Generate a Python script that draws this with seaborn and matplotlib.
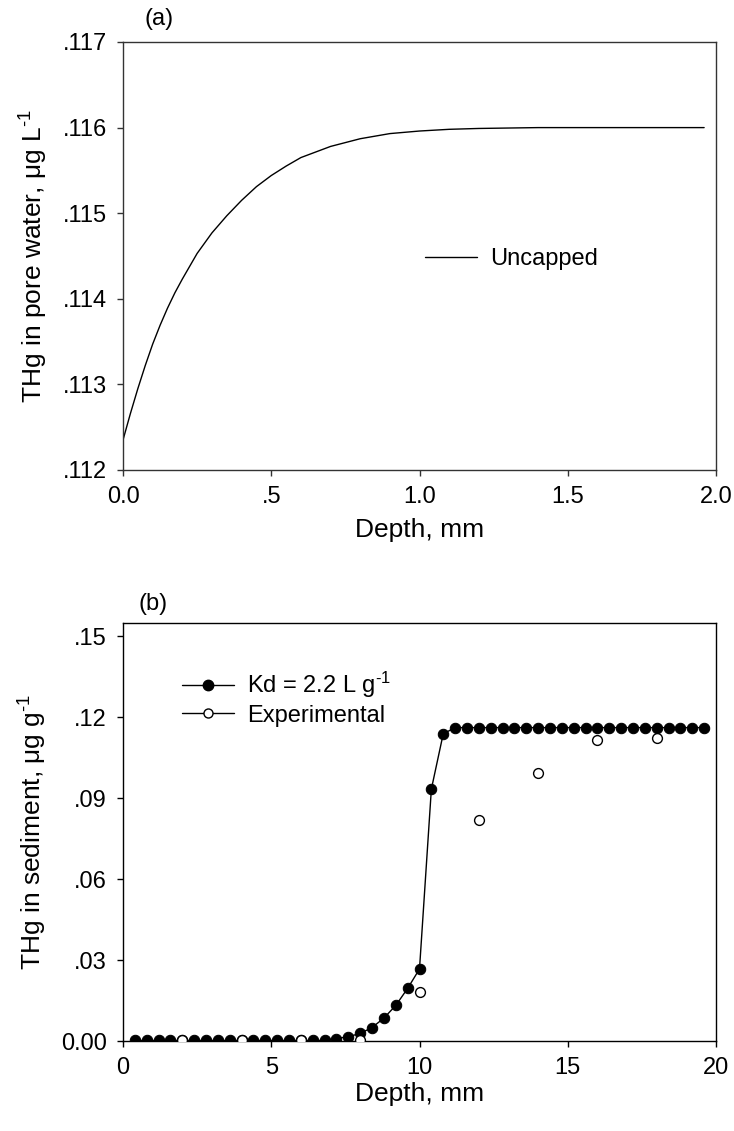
import matplotlib
matplotlib.use("Agg")
import matplotlib.pyplot as plt
from matplotlib.lines import Line2D
from matplotlib.ticker import FixedLocator, FixedFormatter
import seaborn as sns
import pandas as pd

# ---- data: panel (a) ----
depth_a = [0.0, 0.025, 0.05, 0.075, 0.1, 0.125, 0.15, 0.175, 0.2, 0.25, 0.3, 0.35,
           0.4, 0.45, 0.5, 0.55, 0.6, 0.7, 0.8, 0.9, 1.0, 1.1, 1.2, 1.4, 1.6, 1.8, 1.96]
thg_pore = [0.11235, 0.11266, 0.11295, 0.11322, 0.11347, 0.11369, 0.11389, 0.11407,
            0.11423, 0.11453, 0.11477, 0.11497, 0.11515, 0.11531, 0.11544, 0.11555,
            0.11565, 0.11578, 0.11587, 0.11593, 0.11596, 0.11598, 0.11599, 0.11600,
            0.11600, 0.11600, 0.11600]

# ---- data: panel (b) ----
depth_model = [0.4, 0.8, 1.2, 1.6, 2.0, 2.4, 2.8, 3.2, 3.6, 4.0, 4.4, 4.8, 5.2, 5.6,
               6.0, 6.4, 6.8, 7.2, 7.6, 8.0, 8.4, 8.8, 9.2, 9.6, 10.0, 10.4, 10.8,
               11.2, 11.6, 12.0, 12.4, 12.8, 13.2, 13.6, 14.0, 14.4, 14.8, 15.2, 15.6,
               16.0, 16.4, 16.8, 17.2, 17.6, 18.0, 18.4, 18.8, 19.2, 19.6]
thg_model = [0.0002] * 17 + [0.0009, 0.0016, 0.0028, 0.0050, 0.0085, 0.0132, 0.0195,
                             0.0267, 0.0934, 0.1139] + [0.1162] * 22
depth_exp = [2, 4, 6, 8, 10, 12, 14, 16, 18]
thg_exp = [0.0002, 0.0002, 0.0002, 0.0004, 0.0182, 0.0820, 0.0994, 0.1116, 0.1125]

a_xticks = [0.0, 0.5, 1.0, 1.5, 2.0]
a_xlabels = ["0.0", ".5", "1.0", "1.5", "2.0"]
a_yticks = [0.112, 0.113, 0.114, 0.115, 0.116, 0.117]
a_ylabels = [".112", ".113", ".114", ".115", ".116", ".117"]
b_xticks = [0, 5, 10, 15, 20]
b_xlabels = ["0", "5", "10", "15", "20"]
b_yticks = [0.0, 0.03, 0.06, 0.09, 0.12, 0.15]
b_ylabels = ["0.00", ".03", ".06", ".09", ".12", ".15"]

sns.set_style("ticks")
plt.rcParams["font.family"] = ["Liberation Sans", "DejaVu Sans"]
plt.rcParams["mathtext.fontset"] = "custom"
plt.rcParams["mathtext.rm"] = "Liberation Sans"
plt.rcParams["mathtext.it"] = "Liberation Sans"
plt.rcParams["text.color"] = "black"
plt.rcParams["axes.labelcolor"] = "black"
plt.rcParams["xtick.color"] = "black"
plt.rcParams["ytick.color"] = "black"

fig = plt.figure(figsize=(7.34, 11.31), dpi=100)
W, H = 734, 1131
L, R = 123, 716
A_TOP, A_BOT = 42, 470
B_TOP, B_BOT = 623, 1041
axA = fig.add_axes([L / W, 1 - A_BOT / H, (R - L) / W, (A_BOT - A_TOP) / H])
axB = fig.add_axes([L / W, 1 - B_BOT / H, (R - L) / W, (B_BOT - B_TOP) / H])

TICK_FS = 17
LAB_FS = 19
LEG_FS = 17
PAN_FS = 17

for ax, sc in ((axA, "#333333"), (axB, "black")):
    for s in ax.spines.values():
        s.set_linewidth(1.0)
        s.set_color(sc)
    ax.tick_params(axis="both", direction="out", length=4.5, width=1.0,
                   color=sc, labelcolor="black", labelsize=TICK_FS, pad=7,
                   top=False, right=False)

SUP = r"$^{\text{-}1}$"

# panel (a)
dfa = pd.DataFrame({"depth": depth_a, "thg": thg_pore})
sns.lineplot(data=dfa, x="depth", y="thg", ax=axA, color="black", linewidth=1.0,
             label="Uncapped")
axA.set_xlim(0, 2.0)
axA.set_ylim(0.112, 0.117)
axA.xaxis.set_major_locator(FixedLocator(a_xticks))
axA.xaxis.set_major_formatter(FixedFormatter(a_xlabels))
axA.yaxis.set_major_locator(FixedLocator(a_yticks))
axA.yaxis.set_major_formatter(FixedFormatter(a_ylabels))
axA.set_xlabel("Depth, mm", fontsize=LAB_FS, labelpad=7)
axA.set_ylabel("THg in pore water, μg L" + SUP, fontsize=LAB_FS, labelpad=9)
axA.legend(loc="center left", bbox_to_anchor=(0.51, (A_BOT - 259) / (A_BOT - A_TOP)),
           frameon=False, fontsize=LEG_FS, handlelength=2.2, handletextpad=0.55,
           borderaxespad=0, borderpad=0)
fig.text(159 / W, 1 - 19 / H, "(a)", fontsize=PAN_FS, ha="center", va="center")

# panel (b)
dfm = pd.DataFrame({"depth": depth_model, "thg": thg_model})
dfe = pd.DataFrame({"depth": depth_exp, "thg": thg_exp})
sns.lineplot(data=dfm, x="depth", y="thg", ax=axB, color="black", linewidth=1.0,
             marker="o", markersize=7.5, markerfacecolor="black",
             markeredgecolor="black", zorder=3)
sns.scatterplot(data=dfe, x="depth", y="thg", ax=axB, s=50, facecolor="white",
                edgecolor="black", linewidth=1.0, zorder=4)
axB.set_xlim(0, 20)
axB.set_ylim(0, 0.155)
axB.xaxis.set_major_locator(FixedLocator(b_xticks))
axB.xaxis.set_major_formatter(FixedFormatter(b_xlabels))
axB.yaxis.set_major_locator(FixedLocator(b_yticks))
axB.yaxis.set_major_formatter(FixedFormatter(b_ylabels))
axB.set_xlabel("Depth, mm", fontsize=LAB_FS, labelpad=2.5)
axB.set_ylabel("THg in sediment, μg g" + SUP, fontsize=LAB_FS, labelpad=9)
handles = [
    Line2D([], [], color="black", linewidth=1.0, marker="o", markersize=7.5,
           markerfacecolor="black", markeredgecolor="black"),
    Line2D([], [], color="black", linewidth=1.0, marker="o", markersize=6.5,
           markerfacecolor="white", markeredgecolor="black"),
]
axB.legend(handles, ["Kd = 2.2 L g" + SUP, "Experimental"], loc="center left",
           bbox_to_anchor=(0.10, 0.82), frameon=False, fontsize=LEG_FS,
           handlelength=2.2, handletextpad=0.55, labelspacing=0.2,
           borderaxespad=0, borderpad=0)
fig.text(153 / W, 1 - 604 / H, "(b)", fontsize=PAN_FS, ha="center", va="center")

fig.savefig("out.png", dpi=100)
